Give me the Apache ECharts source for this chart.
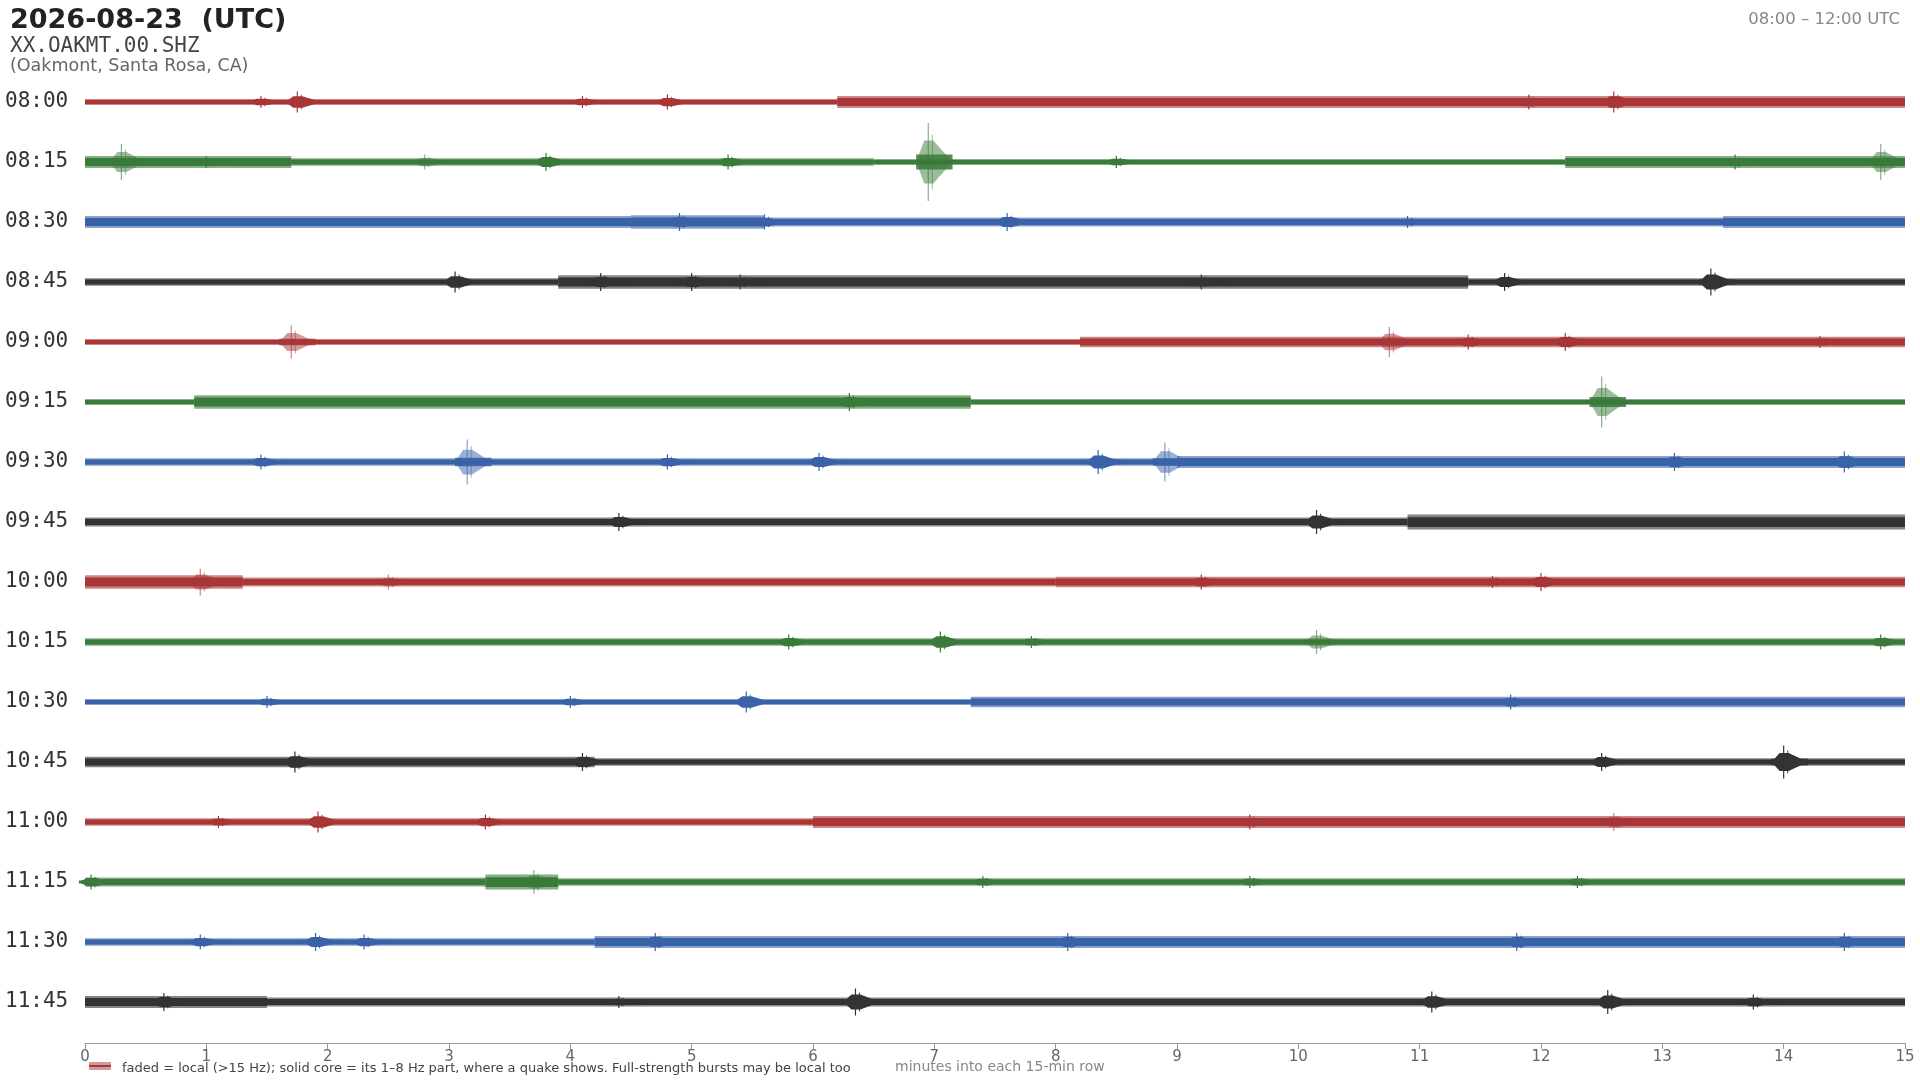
<!DOCTYPE html>
<html>
<head>
<meta charset="utf-8">
<script src="https://cdn.jsdelivr.net/npm/echarts@6/dist/echarts.min.js"></script>
<style>html,body{margin:0;padding:0;background:#fff}#main{width:1920px;height:1080px}</style>
</head>
<body>
<div id="main"></div>
<script>
// row labels (one 15-minute row each)
var rowLabels = ['08:00','08:15','08:30','08:45','09:00','09:15','09:30','09:45',
                 '10:00','10:15','10:30','10:45','11:00','11:15','11:30','11:45'];
var rowColors = ['#a83636','#3a7a3a','#3a62a8','#333333'];

// background level per row: [startMin, endMin, halfAmplitude px]
var levels = [
  [[0,6.2,2],[6.2,15,4]],
  [[0,1.7,4],[1.7,6.5,2.5],[6.5,12.2,2],[12.2,15,4]],
  [[0,4.5,4],[4.5,5.6,4.5],[5.6,13.5,3],[13.5,15,4]],
  [[0,3.9,2.5],[3.9,11.4,4.5],[11.4,15,2.5]],
  [[0,8.2,2],[8.2,15,3.5]],
  [[0,0.9,2],[0.9,7.3,4.5],[7.3,15,2]],
  [[0,9,2.5],[9,15,4]],
  [[0,10.9,3],[10.9,15,5]],
  [[0,1.3,4.5],[1.3,8,3],[8,15,3.5]],
  [[0,15,2.5]],
  [[0,7.3,2],[7.3,15,3.5]],
  [[0,4.2,3.5],[4.2,15,2.5]],
  [[0,6,2.5],[6,15,4]],
  [[0,3.3,3],[3.3,3.9,5],[3.9,15,2.5]],
  [[0,4.2,2.5],[4.2,15,4]],
  [[0,1.5,4],[1.5,15,3]]
];

// bursts per row: [minute, halfAmplitude px, faded(1)/solid(0)]
var bursts = [
  [[1.45,4,0],[1.75,7,0],[4.1,4,0],[4.8,5,0],[11.9,5,0],[12.6,7,0]],
  [[0.3,12,1],[1.0,4,0],[2.8,5,1],[3.8,6,0],[5.3,5,0],[6.95,26,1],[8.5,4,0],[13.6,5,0],[14.8,12,1]],
  [[4.9,6,0],[5.6,5,0],[7.6,6,0],[10.9,4,0]],
  [[3.05,7,0],[4.25,6,0],[5.0,6,0],[5.4,5,0],[9.2,5,0],[11.7,6,0],[13.4,9,0]],
  [[1.7,11,1],[10.75,10,1],[11.4,5,0],[12.2,6,0],[14.3,4,0]],
  [[6.3,6,0],[12.5,17,1]],
  [[1.45,5,0],[3.15,15,1],[4.8,5,0],[6.05,6,0],[8.35,8,0],[8.9,13,1],[13.1,6,0],[14.5,7,0]],
  [[4.4,6,0],[10.15,8,0]],
  [[0.95,9,1],[2.5,5,1],[9.2,5,0],[11.6,4,0],[12.0,6,0]],
  [[5.8,5,0],[7.05,7,0],[7.8,4,0],[10.15,8,1],[14.8,5,0]],
  [[1.5,4,0],[4.0,4,0],[5.45,7,0],[11.75,5,0]],
  [[1.73,7,0],[4.1,6,0],[12.5,6,0],[14.0,11,0]],
  [[1.1,4,0],[1.92,7,0],[3.3,5,0],[9.6,5,0],[12.6,6,1]],
  [[0.05,5,0],[3.7,8,1],[7.4,4,0],[9.6,4,0],[12.3,4,0]],
  [[0.95,5,0],[1.9,6,0],[2.3,5,0],[4.7,6,0],[8.1,6,0],[11.8,6,0],[14.5,6,0]],
  [[0.65,6,0],[4.4,4,0],[6.35,9,0],[11.1,7,0],[12.55,8,0],[13.75,5,0]]
];

var xTicks = [0,1,2,3,4,5,6,7,8,9,10,11,12,13,14,15];
var SCALE = 1.5; // picture px -> page px

function buildData() {
  var data = [];
  for (var r = 0; r < rowLabels.length; r++) {
    data.push([2, r, 0, 0, 0, 0]); // row label
    levels[r].forEach(function (s) { data.push([0, r, s[0], s[1], s[2], 0]); });
    bursts[r].forEach(function (b) { data.push([1, r, b[0], b[0], b[1], b[2]]); });
  }
  return data;
}

function renderItem(params, api) {
  var kind = api.value(0), r = api.value(1);
  var color = rowColors[r % 4];
  var y0 = api.coord([0, -r])[1];
  if (kind == 2) {
    return {type: 'text', style: {text: rowLabels[r], x: 5, y: y0, verticalAlign: 'middle',
      font: '21px "DejaVu Sans Mono"', fill: '#333'}};
  }
  var a = api.value(4) * SCALE;
  if (kind == 0) {
    var p0 = api.coord([api.value(2), -r]), p1 = api.coord([api.value(3), -r]);
    return {type: 'group', children: [
      {type: 'rect', shape: {x: p0[0], y: y0 - a, width: p1[0] - p0[0], height: 2 * a},
        style: {fill: color, opacity: 0.6}},
      {type: 'rect', shape: {x: p0[0], y: y0 - a * 0.65, width: p1[0] - p0[0], height: 1.3 * a},
        style: {fill: color}}
    ]};
  }
  var x = api.value(2);
  var xa = api.coord([x - 0.1, -r])[0], xp = api.coord([x, -r])[0], xb = api.coord([x + 0.2, -r])[0];
  var faded = api.value(5) == 1;
  var body = a * 0.55;
  var spindle = [[xa, y0], [xp - 4, y0 - body], [xp + 5, y0 - body], [xb, y0], [xp + 5, y0 + body], [xp - 4, y0 + body]];
  return {type: 'group', children: [
    {type: 'polygon', shape: {points: spindle}, style: {fill: color, opacity: faded ? 0.5 : 1}},
    {type: 'line', shape: {x1: xp, y1: y0 - a, x2: xp, y2: y0 + a},
      style: {stroke: color, lineWidth: 1.2, opacity: faded ? 0.6 : 1}},
    {type: 'line', shape: {x1: xp + 4, y1: y0 - a * 0.7, x2: xp + 4, y2: y0 + a * 0.7},
      style: {stroke: color, lineWidth: 1, opacity: faded ? 0.5 : 0.9}},
    {type: 'rect', shape: {x: xa, y: y0 - body * 0.35, width: xb - xa, height: body * 0.7},
      style: {fill: color, opacity: faded ? 0.85 : 1}}
  ]};
}

var myChart = echarts.init(document.getElementById('main'));
myChart.setOption({
  animation: false,
  title: [
    {text: '2026-08-23  (UTC)', left: 5, top: 2,
      textStyle: {fontFamily: 'DejaVu Sans', fontSize: 27, fontWeight: 'bold', color: '#222'}},
    {text: 'XX.OAKMT.00.SHZ', left: 5, top: 31,
      textStyle: {fontFamily: 'DejaVu Sans Mono', fontSize: 21, fontWeight: 'normal', color: '#444'}},
    {text: '(Oakmont, Santa Rosa, CA)', left: 5, top: 52,
      textStyle: {fontFamily: 'DejaVu Sans', fontSize: 17.5, fontWeight: 'normal', color: '#666'}},
    {text: '08:00 – 12:00 UTC', right: 15, top: 6,
      textStyle: {fontFamily: 'DejaVu Sans', fontSize: 16.5, fontWeight: 'normal', color: '#888'}},
    {text: 'faded = local (>15 Hz); solid core = its 1–8 Hz part, where a quake shows. Full-strength bursts may be local too',
      left: 117, top: 1057, textStyle: {fontFamily: 'DejaVu Sans', fontSize: 13, fontWeight: 'normal', color: '#444'}},
    {text: 'minutes into each 15-min row', left: 890, top: 1055,
      textStyle: {fontFamily: 'DejaVu Sans', fontSize: 14, fontWeight: 'normal', color: '#888'}}
  ],
  graphic: [
    {type: 'rect', shape: {x: 89, y: 1062, width: 22, height: 8}, style: {fill: '#a83636', opacity: 0.5}},
    {type: 'rect', shape: {x: 89, y: 1065, width: 22, height: 2}, style: {fill: '#a83636'}}
  ],
  grid: {left: 85, right: 15, top: 72, bottom: 37},
  xAxis: {
    type: 'value', min: 0, max: 15, interval: 1,
    axisLine: {onZero: false, lineStyle: {color: '#999'}},
    axisTick: {length: 6, lineStyle: {color: '#999'}},
    axisLabel: {color: '#666', fontSize: 15, fontFamily: 'DejaVu Sans', margin: 7,
      formatter: function (v) { return xTicks.indexOf(v) >= 0 ? String(v) : ''; }},
    splitLine: {show: false}
  },
  yAxis: {type: 'value', min: -15.683, max: 0.5, show: false},
  series: [{type: 'custom', renderItem: renderItem, data: buildData(), encode: {x: [2, 3], y: 1}, clip: false}]
});
</script>
</body>
</html>
